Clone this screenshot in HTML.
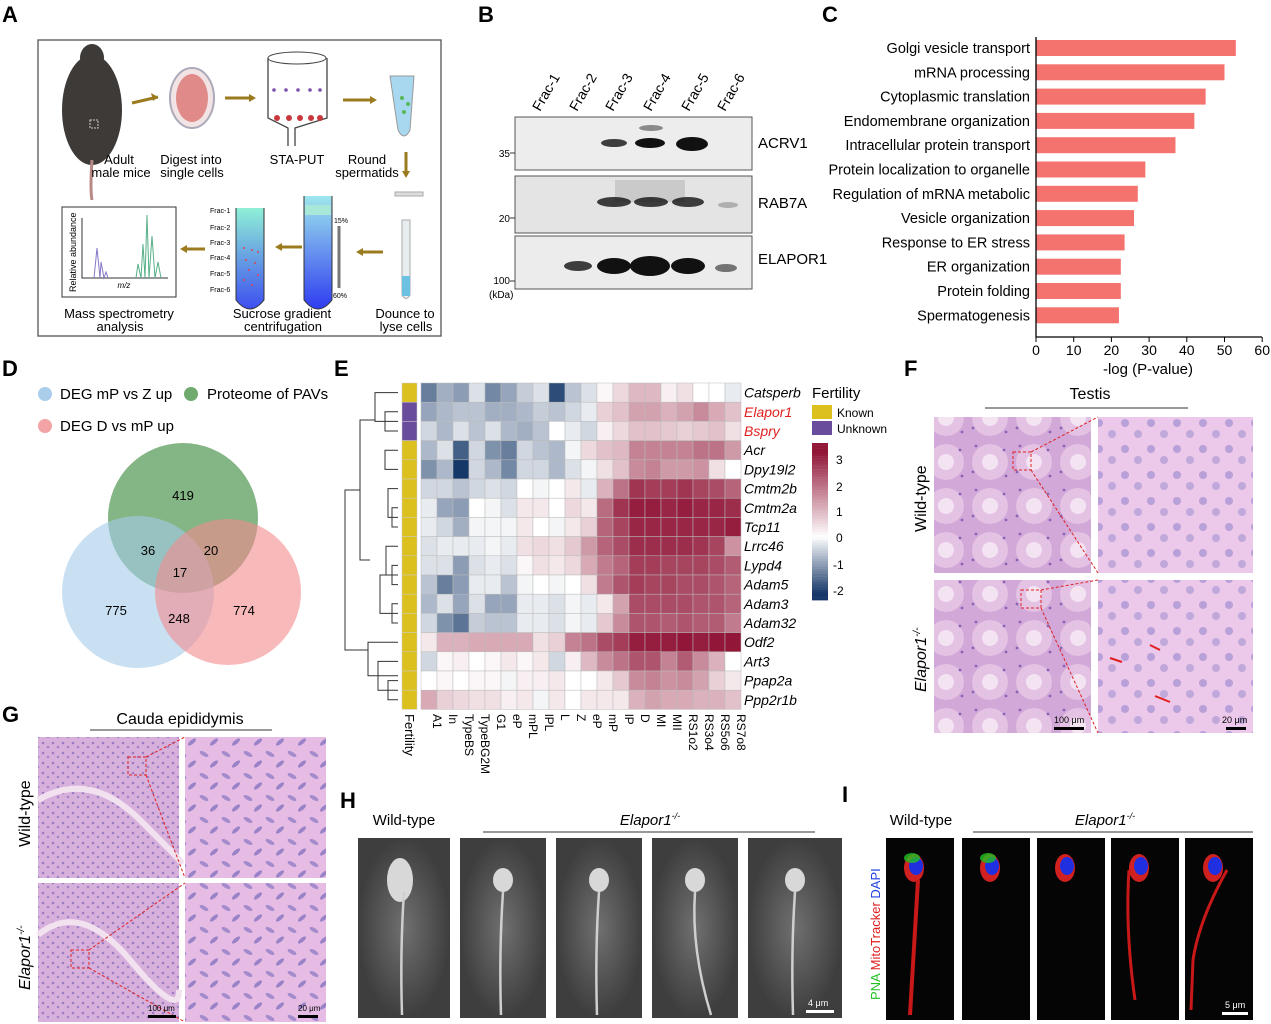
<!DOCTYPE html>
<html><head><meta charset="utf-8"><style>
body{margin:0;background:#fff}
svg{display:block;font-family:"Liberation Sans",Arial,sans-serif}
.L{font-size:22px;font-weight:bold}
.t{font-size:13px}
</style></head><body>
<svg id="s" width="1271" height="1024" viewBox="0 0 1271 1024" xmlns="http://www.w3.org/2000/svg">
<defs>
<linearGradient id="tube1" x1="0" y1="0" x2="0" y2="1"><stop offset="0" stop-color="#8ff0d6"/><stop offset="1" stop-color="#3d4ef0"/></linearGradient>
<linearGradient id="tube2" x1="0" y1="0" x2="0" y2="1"><stop offset="0" stop-color="#9ee6ee"/><stop offset="1" stop-color="#2f3cf0"/></linearGradient>
<pattern id="he" width="44" height="44" patternUnits="userSpaceOnUse"><rect width="44" height="44" fill="#d2a8d8"/><circle cx="22" cy="22" r="18" fill="#e4c2e4"/><circle cx="22" cy="22" r="8" fill="#f4e4f2"/><circle cx="8" cy="6" r="1.4" fill="#8a64b4"/><circle cx="36" cy="10" r="1.4" fill="#8a64b4"/><circle cx="38" cy="36" r="1.4" fill="#8a64b4"/><circle cx="5" cy="32" r="1.4" fill="#8a64b4"/></pattern>
<pattern id="hez" width="26" height="26" patternUnits="userSpaceOnUse"><rect width="26" height="26" fill="#ecc8ea"/><circle cx="7" cy="7" r="4" fill="#b8a0d8"/><circle cx="20" cy="18" r="4" fill="#c0a8da"/></pattern>
<pattern id="epi" width="10" height="10" patternUnits="userSpaceOnUse"><rect width="10" height="10" fill="#d8b0dc"/><circle cx="3" cy="3" r="1.3" fill="#9a7cc4"/><circle cx="8" cy="7" r="1.3" fill="#a284c8"/></pattern>
<pattern id="epiz" width="22" height="22" patternUnits="userSpaceOnUse"><rect width="22" height="22" fill="#e6bce4"/><ellipse cx="6" cy="6" rx="5" ry="2" fill="#a48ccc" transform="rotate(30 6 6)"/><ellipse cx="16" cy="16" rx="5" ry="2" fill="#9a82c8" transform="rotate(-40 16 16)"/></pattern>
<radialGradient id="sem"><stop offset="0" stop-color="#707070"/><stop offset="1" stop-color="#3e3e3e"/></radialGradient>
</defs>

<text class="L" x="2" y="22">A</text><text class="L" x="478" y="22">B</text><text class="L" x="822" y="22">C</text>
<text class="L" x="2" y="376">D</text><text class="L" x="334" y="376">E</text><text class="L" x="904" y="376">F</text>
<text class="L" x="2" y="722">G</text><text class="L" x="340" y="808">H</text><text class="L" x="842" y="802">I</text>

<!-- Panel A -->
<rect x="38" y="40" width="403" height="296" fill="#fff" stroke="#555" stroke-width="1.3"/>
<ellipse cx="92" cy="110" rx="30" ry="55" fill="#3e3a38"/>
<ellipse cx="92" cy="58" rx="12" ry="14" fill="#3e3a38"/>
<path d="M92 160 Q90 190 92 200" stroke="#b88a86" stroke-width="3" fill="none"/>
<rect x="90" y="120" width="8" height="8" fill="none" stroke="#ccc" stroke-dasharray="2 1"/>
<path d="M132 103 L158 97" stroke="#9c7b1e" stroke-width="3"/><path d="M158 97 l-7 -4 l2 8z" fill="#9c7b1e"/>
<ellipse cx="192" cy="98" rx="22" ry="30" fill="#f2e4e4" stroke="#aab" stroke-width="2"/>
<ellipse cx="192" cy="98" rx="16" ry="24" fill="#e08a8a"/>
<path d="M225 98 L252 98" stroke="#9c7b1e" stroke-width="3"/><path d="M256 98 l-7 -4 l0 8z" fill="#9c7b1e"/>
<path d="M268 58 L268 118 L288 128 L288 146 M295 146 L295 128 L327 118 L327 58" stroke="#444" fill="none" stroke-width="1.3"/>
<ellipse cx="297" cy="58" rx="29" ry="6" fill="#fff" stroke="#444"/>
<g fill="#7b4ea8"><circle cx="274" cy="90" r="1.8"/><circle cx="286" cy="90" r="1.8"/><circle cx="298" cy="90" r="1.8"/><circle cx="310" cy="90" r="1.8"/><circle cx="320" cy="90" r="1.8"/></g>
<g fill="#c8383c"><circle cx="277" cy="118" r="3"/><circle cx="289" cy="118" r="3"/><circle cx="300" cy="118" r="3"/><circle cx="311" cy="118" r="3"/><circle cx="320" cy="118" r="3"/></g>
<path d="M343 100 L372 100" stroke="#9c7b1e" stroke-width="3"/><path d="M377 100 l-7 -4 l0 8z" fill="#9c7b1e"/>
<path d="M390 76 L414 76 L410 130 Q404 142 398 130 Z" fill="#a8d8f0" stroke="#999"/>
<g fill="#58b858"><circle cx="402" cy="98" r="2"/><circle cx="408" cy="104" r="2"/><circle cx="404" cy="112" r="2"/></g>
<path d="M406 152 L406 172" stroke="#9c7b1e" stroke-width="3"/><path d="M406 178 l-4 -7 l8 0z" fill="#9c7b1e"/>
<rect x="395" y="192" width="28" height="4" fill="#ddd" stroke="#aaa"/>
<path d="M402 220 L410 220 L410 295 Q406 302 402 295 Z" fill="#e8eef0" stroke="#aaa"/>
<rect x="402" y="276" width="8" height="20" fill="#6cc0e0"/>
<text class="t" x="119" y="164" text-anchor="middle">Adult</text><text class="t" x="121" y="177" text-anchor="middle">male mice</text>
<text class="t" x="191" y="164" text-anchor="middle">Digest into</text><text class="t" x="192" y="177" text-anchor="middle">single cells</text>
<text class="t" x="297" y="164" text-anchor="middle">STA-PUT</text>
<text class="t" x="367" y="164" text-anchor="middle">Round</text><text class="t" x="367" y="177" text-anchor="middle">spermatids</text>
<rect x="62" y="207" width="114" height="90" fill="#fff" stroke="#333"/>
<text x="76" y="292" font-size="9" transform="rotate(-90 76 292)">Relative abundance</text>
<path d="M82 218 L82 278 L168 278" stroke="#333" fill="none"/>
<text x="124" y="288" font-size="8" font-style="italic" text-anchor="middle">m/z</text>
<path d="M94 278 L97 248 L100 278 L101 262 L104 278 L106 272 L108 278" stroke="#8878c8" fill="none"/>
<path d="M136 278 L138 264 L141 278 L143 244 L145 278 L147 215 L149 278 L152 236 L155 278 L158 262 L161 278" stroke="#58b088" fill="none"/>
<path d="M205 249 L185 249" stroke="#9c7b1e" stroke-width="3"/><path d="M180 249 l7 -4 l0 8z" fill="#9c7b1e"/>
<path d="M236 208 L236 300 Q250 318 264 300 L264 208" fill="url(#tube1)" stroke="#333"/>
<rect x="237" y="196" width="26" height="12" fill="#fff"/>
<g font-size="7"><text x="210" y="213">Frac-1</text><text x="210" y="230">Frac-2</text><text x="210" y="245">Frac-3</text><text x="210" y="260">Frac-4</text><text x="210" y="276">Frac-5</text><text x="210" y="292">Frac-6</text></g>
<g fill="#e04050"><circle cx="244" cy="248" r="1"/><circle cx="252" cy="250" r="1"/><circle cx="258" cy="252" r="1"/><circle cx="246" cy="260" r="1"/><circle cx="255" cy="263" r="1"/><circle cx="249" cy="270" r="1"/><circle cx="258" cy="275" r="1"/><circle cx="244" cy="280" r="1"/><circle cx="252" cy="285" r="1"/></g>
<path d="M302 247 L280 247" stroke="#9c7b1e" stroke-width="3"/><path d="M275 247 l7 -4 l0 8z" fill="#9c7b1e"/>
<path d="M304 196 L304 300 Q318 318 332 300 L332 196" fill="url(#tube2)" stroke="#333"/>
<rect x="305" y="205" width="26" height="10" fill="#a8e8d8"/>
<text x="334" y="223" font-size="7">15%</text><text x="333" y="298" font-size="7">60%</text>
<path d="M339 226 L339 288" stroke="#777" stroke-width="3"/>
<path d="M383 252 L362 252" stroke="#9c7b1e" stroke-width="3"/><path d="M356 252 l7 -4 l0 8z" fill="#9c7b1e"/>
<text class="t" x="119" y="318" text-anchor="middle">Mass spectrometry</text><text class="t" x="120" y="331" text-anchor="middle">analysis</text>
<text class="t" x="282" y="318" text-anchor="middle">Sucrose gradient</text><text class="t" x="283" y="331" text-anchor="middle">centrifugation</text>
<text class="t" x="405" y="318" text-anchor="middle">Dounce to</text><text class="t" x="406" y="331" text-anchor="middle">lyse cells</text>

<!-- Panel B -->
<g font-size="14">
<text transform="translate(540,112) rotate(-60)">Frac-1</text><text transform="translate(577,112) rotate(-60)">Frac-2</text>
<text transform="translate(613,112) rotate(-60)">Frac-3</text><text transform="translate(651,112) rotate(-60)">Frac-4</text>
<text transform="translate(689,112) rotate(-60)">Frac-5</text><text transform="translate(725,112) rotate(-60)">Frac-6</text>
</g>
<rect x="515" y="117" width="237" height="53" fill="#ededed" stroke="#555"/>
<rect x="515" y="176" width="237" height="57" fill="#e4e4e4" stroke="#555"/>
<rect x="515" y="236" width="237" height="53" fill="#ececec" stroke="#555"/>
<g fill="#111">
<ellipse cx="614" cy="143" rx="13" ry="4" opacity=".8"/><ellipse cx="650" cy="143" rx="15" ry="5"/><ellipse cx="651" cy="128" rx="12" ry="3" opacity=".45"/><ellipse cx="692" cy="144" rx="16" ry="7"/>
<ellipse cx="614" cy="202" rx="17" ry="5" opacity=".8"/><ellipse cx="651" cy="202" rx="17" ry="5" opacity=".8"/><ellipse cx="688" cy="202" rx="16" ry="5" opacity=".8"/><ellipse cx="728" cy="205" rx="10" ry="3" opacity=".25"/>
<rect x="615" y="180" width="70" height="22" opacity=".12"/>
<ellipse cx="578" cy="266" rx="14" ry="5" opacity=".8"/><ellipse cx="614" cy="266" rx="17" ry="8"/><ellipse cx="650" cy="266" rx="20" ry="10"/><ellipse cx="688" cy="266" rx="17" ry="8"/><ellipse cx="726" cy="268" rx="11" ry="4" opacity=".55"/>
</g>
<g font-size="10"><text x="510" y="157" text-anchor="end">35</text><text x="510" y="222" text-anchor="end">20</text><text x="510" y="284" text-anchor="end">100</text><text x="489" y="298">(kDa)</text></g>
<path d="M510 153 h5 M510 218 h5 M510 281 h5" stroke="#333"/>
<g font-size="15"><text x="758" y="148">ACRV1</text><text x="758" y="208">RAB7A</text><text x="758" y="264">ELAPOR1</text></g>

<!-- Panel C -->
<g id="cbars"></g>
<path d="M1036 37 L1036 337 L1262 337" stroke="#000" fill="none" stroke-width="1.3"/>
<g id="cticks" font-size="14"></g>
<text x="1148" y="374" font-size="15" text-anchor="middle">-log (P-value)</text>

<!-- Panel D -->
<circle cx="45" cy="394" r="7" fill="#a9cdea"/><text x="60" y="399" font-size="15">DEG mP vs Z up</text>
<circle cx="191" cy="394" r="7" fill="#6faa6f"/><text x="207" y="399" font-size="15">Proteome of PAVs</text>
<circle cx="45" cy="426" r="7" fill="#f4a3a5"/><text x="60" y="431" font-size="15">DEG D vs mP up</text>
<circle cx="183" cy="518" r="75" fill="#6fa86f" fill-opacity=".85"/>
<circle cx="138" cy="592" r="76" fill="#a4cbea" fill-opacity=".6"/>
<circle cx="228" cy="592" r="73" fill="#f48a8e" fill-opacity=".6"/>
<g font-size="13" text-anchor="middle"><text x="183" y="500">419</text><text x="148" y="555">36</text><text x="211" y="555">20</text><text x="180" y="577">17</text><text x="116" y="615">775</text><text x="179" y="623">248</text><text x="244" y="615">774</text></g>

<!-- Panel E -->
<g id="hm"></g>
<g id="dend" stroke="#333" fill="none" stroke-width="1"></g>
<text x="812" y="398" font-size="15">Fertility</text>
<rect x="812" y="405" width="20" height="14" fill="#dcc01e"/><text x="837" y="417" font-size="12">Known</text>
<rect x="812" y="421" width="20" height="14" fill="#6a4c9c"/><text x="837" y="433" font-size="12">Unknown</text>
<g id="cbar"></g>
<g font-size="12"><text x="836" y="464">3</text><text x="836" y="491">2</text><text x="836" y="516">1</text><text x="836" y="542">0</text><text x="833" y="569">-1</text><text x="833" y="595">-2</text></g>

<!-- Panel F -->
<text x="1090" y="399" font-size="16" text-anchor="middle">Testis</text>
<path d="M985 408 H1188" stroke="#333"/>
<rect x="934" y="417" width="157" height="156" fill="url(#he)"/>
<rect x="1098" y="417" width="155" height="156" fill="url(#hez)"/>
<rect x="934" y="580" width="157" height="153" fill="url(#he)"/>
<rect x="1098" y="580" width="155" height="153" fill="url(#hez)"/>
<rect x="1013" y="452" width="18" height="18" fill="none" stroke="#e02020" stroke-dasharray="3 2"/>
<rect x="1021" y="590" width="20" height="18" fill="none" stroke="#e02020" stroke-dasharray="3 2"/>
<path d="M1031 452 L1098 417 M1031 470 L1098 573 M1041 590 L1098 580 M1041 608 L1098 733" stroke="#e02020" stroke-dasharray="3 2"/>
<text transform="translate(926,532) rotate(-90)" font-size="16">Wild-type</text>
<text transform="translate(926,692) rotate(-90)" font-size="16" font-style="italic">Elapor1<tspan font-size="10" dy="-6">-/-</tspan></text>
<rect x="1054" y="727" width="30" height="3" fill="#000"/><text x="1054" y="723" font-size="9">100 μm</text>
<rect x="1226" y="727" width="20" height="3" fill="#000"/><text x="1222" y="723" font-size="9">20 μm</text>
<path d="M1110 658 L1122 662 M1150 645 L1160 650 M1155 696 L1170 702" stroke="#e02020" stroke-width="2"/>

<!-- Panel G -->
<text x="180" y="724" font-size="16" text-anchor="middle">Cauda epididymis</text>
<path d="M90 730 H272" stroke="#333"/>
<rect x="38" y="737" width="141" height="141" fill="url(#epi)"/>
<rect x="185" y="737" width="141" height="141" fill="url(#epiz)"/>
<rect x="38" y="883" width="141" height="139" fill="url(#epi)"/>
<rect x="185" y="883" width="141" height="139" fill="url(#epiz)"/>
<path d="M38 800 Q90 770 140 820 T179 860 M38 935 Q80 900 130 960 T179 990" stroke="#f2e2f0" stroke-width="6" fill="none"/>
<text transform="translate(30,847) rotate(-90)" font-size="16">Wild-type</text>
<text transform="translate(30,990) rotate(-90)" font-size="16" font-style="italic">Elapor1<tspan font-size="10" dy="-6">-/-</tspan></text>
<rect x="128" y="757" width="18" height="18" fill="none" stroke="#e02020" stroke-dasharray="3 2"/>
<rect x="71" y="950" width="18" height="18" fill="none" stroke="#e02020" stroke-dasharray="3 2"/>
<path d="M146 757 L185 737 M146 775 L185 878 M89 950 L185 883 M89 968 L185 1022" stroke="#e02020" stroke-dasharray="3 2"/>
<rect x="148" y="1015" width="28" height="3" fill="#000"/><rect x="298" y="1015" width="20" height="3" fill="#000"/>
<text x="148" y="1011" font-size="8">100 μm</text><text x="298" y="1011" font-size="8">20 μm</text>

<!-- Panel H -->
<text x="404" y="825" font-size="15" text-anchor="middle">Wild-type</text>
<text x="650" y="825" font-size="15" text-anchor="middle" font-style="italic">Elapor1<tspan font-size="9" dy="-6">-/-</tspan></text>
<path d="M483 832 H815" stroke="#333"/>
<g id="semg"></g>
<rect x="806" y="1010" width="28" height="3" fill="#fff"/><text x="808" y="1006" font-size="9" fill="#fff">4 μm</text>

<!-- Panel I -->
<text x="921" y="825" font-size="15" text-anchor="middle">Wild-type</text>
<text x="1105" y="825" font-size="15" text-anchor="middle" font-style="italic">Elapor1<tspan font-size="9" dy="-6">-/-</tspan></text>
<path d="M973 832 H1253" stroke="#333"/>
<text transform="translate(880,1000) rotate(-90)" font-size="13"><tspan fill="#20c020">PNA</tspan> <tspan fill="#e02020">MitoTracker</tspan> <tspan fill="#2040e0">DAPI</tspan></text>
<g id="fl"></g>
<rect x="1222" y="1012" width="26" height="3" fill="#fff"/><text x="1225" y="1008" font-size="9" fill="#fff">5 μm</text>
</svg>
<script>
var NS="http://www.w3.org/2000/svg";
function el(p,t,a,txt){var e=document.createElementNS(NS,t);for(var k in a)e.setAttribute(k,a[k]);if(txt!=null)e.textContent=txt;document.getElementById(p).appendChild(e);return e;}
var terms=[["Golgi vesicle transport",53],["mRNA processing",50],["Cytoplasmic translation",45],["Endomembrane organization",42],["Intracellular protein transport",37],["Protein localization to organelle",29],["Regulation of mRNA metabolic",27],["Vesicle organization",26],["Response to ER stress",23.5],["ER organization",22.5],["Protein folding",22.5],["Spermatogenesis",22]];
terms.forEach(function(t,i){var y=48+i*24.3;el("cbars","rect",{x:1036,y:y-8,width:t[1]*3.77,height:16,fill:"#f4736f"});el("cbars","text",{x:1030,y:y+5,"text-anchor":"end","font-size":14.5},t[0]);});
for(var v=0;v<=60;v+=10){var x=1036+v*3.77;el("cticks","path",{d:"M"+x+" 337 v5",stroke:"#000"});el("cticks","text",{x:x,y:355,"text-anchor":"middle"},v);}
var genes=["Catsperb","Elapor1","Bspry","Acr","Dpy19l2","Cmtm2b","Cmtm2a","Tcp11","Lrrc46","Lypd4","Adam5","Adam3","Adam32","Odf2","Art3","Ppap2a","Ppp2r1b"];
var D=[[-1.3,-0.8,-1,-0.3,-1.2,-0.9,-0.5,-0.3,-1.8,-0.6,-0.3,0.1,0.5,0.9,0.9,0.2,0.4,0,0,-0.2],
[-0.9,-0.7,-0.6,-0.6,-0.8,-0.8,-0.7,-0.5,-0.6,-0.4,-0.2,0.6,0.8,1.2,1.2,1,1.2,1.5,1.1,0.8],
[-0.4,-0.7,-0.3,-0.6,-0.3,-0.7,-0.8,-0.6,0,-0.2,-0.4,0.2,0.5,0.8,0.8,0.7,0.6,0.7,0.8,0.4],
[-0.7,-0.3,-1.6,-0.4,-1.1,-1.3,-0.4,-0.6,-0.7,-0.1,0.5,0.8,0.9,1.6,1.6,1.6,1.6,1.8,1.8,1.3],
[-1.1,-0.7,-2,-0.4,-0.7,-1.2,-0.4,-0.4,-0.7,-0.3,-0.1,0.4,0.8,1.5,1.6,1.3,1.3,1.4,0.4,0],
[-0.4,-0.4,-0.6,-0.4,-0.3,-0.4,0,-0.1,0,0.3,-0.2,1,1.8,2.6,2.5,2.5,2.6,2.4,2.3,2],
[-0.2,-0.9,-1,0,-0.1,-0.3,0.3,0.3,0,0.5,0.3,1.9,2.6,2.9,2.9,2.8,2.9,2.8,2.8,2.7],
[-0.2,-0.4,-0.8,-0.1,-0.1,-0.1,0.3,0,-0.1,0.3,0.6,2,2.4,2.8,2.8,2.8,2.8,2.8,2.8,2.9],
[-0.3,-0.2,-0.2,-0.2,-0.1,-0.2,0.4,0.5,0.4,0.7,1.3,2,2.3,2.7,2.7,2.7,2.7,2.6,2.4,1.4],
[-0.3,-0.3,-1,-0.3,-0.2,-0.3,0.1,0.4,0.3,0.5,1.1,1.7,2,2.5,2.5,2.4,2.4,2.4,2.3,2.1],
[-0.6,-1.3,-1,-0.2,-0.2,-0.6,-0.1,0,-0.1,0,0.4,1.7,2.2,2.5,2.4,2.4,2.3,2.3,2.2,2],
[-0.7,-0.3,-0.9,-0.3,-0.9,-0.9,-0.2,-0.2,-0.3,-0.1,-0.2,0.3,1.2,2.3,2.3,2.3,2.3,2.2,2.2,2],
[-0.4,-1.1,-1.4,-0.5,-0.6,-0.6,-0.2,-0.2,-0.3,-0.1,-0.2,0.7,1.5,2.2,2.2,2.1,2.2,2.1,2.1,1.7],
[0.3,1,1,1.1,1.1,1.1,1.1,0.4,0.6,1.6,1.8,2.3,2.5,2.9,2.9,2.9,3,2.9,3,3.2],
[-0.4,0.1,0.2,0,0.1,0.3,0.1,0.3,-0.4,0.2,0.9,1.5,1.8,2.2,2.2,1.6,2.1,1.5,1,0],
[0,0.1,0,0.1,0.1,-0.1,0.2,0.2,0.3,0,0,0.3,0.7,1.5,1.6,1.4,1.5,1.2,0.6,0.3],
[1.1,0.6,0.5,0.4,0.4,0.2,0.3,-0.1,0.3,0,0.3,0.3,0.3,1,1.2,1.1,1.1,1,1,0.8]];
function col(v){var a=[255,255,255],b,t;if(v<0){t=Math.min(1,-v/2);b=[22,56,104];}else{t=Math.min(1,v/3);b=[145,22,55];}
return "rgb("+a.map(function(x,i){return Math.round(x+(b[i]-x)*t)}).join(",")+")";}
var x0=421,y0=383,cw=16,rh=19.2;
genes.forEach(function(g,r){var y=y0+r*rh;
 el("hm","rect",{x:402,y:y,width:15,height:rh,fill:(r==1||r==2)?"#6a4c9c":"#dcc01e",stroke:"#ccc","stroke-width":0.5});
 for(var c=0;c<20;c++)el("hm","rect",{x:x0+c*cw,y:y,width:cw,height:rh,fill:col(D[r][c]),stroke:"#bbb","stroke-width":0.5});
 el("hm","text",{x:744,y:y+rh/2+5,"font-size":14,"font-style":"italic",fill:(r==1||r==2)?"#e02020":"#000"},g);
});
var cols=["A1","In","TypeBS","TypeBG2M","G1","eP","mPL","lPL","L","Z","eP","mP","lP","D","MI","MII","RS1o2","RS3o4","RS5o6","RS7o8"];
cols.forEach(function(c,i){var x=x0+i*cw+cw/2+4;el("hm","text",{transform:"translate("+x+",714) rotate(90)","font-size":12},c);});
el("hm","text",{transform:"translate(405,714) rotate(90)","font-size":13},"Fertility");
for(var i=0;i<60;i++){var v=3.3-i*(5.6/60);el("cbar","rect",{x:812,y:443+i*2.62,width:16,height:2.8,fill:col(v)});}
var yc=function(r){return y0+r*rh+rh/2;};
var dp=[[398,yc(1),yc(2),385],[398,yc(0),(yc(1)+yc(2))/2,375],[398,yc(3),yc(4),385],[398,yc(6),yc(7),392],[398,yc(5),(yc(6)+yc(7))/2,388],[398,yc(9),yc(10),392],[398,yc(11),yc(12),392],[398,yc(8),(yc(9)+yc(10))/2,386],[386,(yc(9)+yc(10))/2,(yc(11)+yc(12))/2,380],[398,yc(15),yc(16),388],[398,yc(14),(yc(15)+yc(16))/2,378],[398,yc(13),(yc(14)+(yc(15)+yc(16))/2)/2,368]];
dp.forEach(function(d){el("dend","path",{d:"M398 "+d[1]+" H"+d[3]+" V"+d[2]+" H398"});});
el("dend","path",{d:"M375 420 H360 V560 H370 M368 650 H345 V490 H360"});
var sx=[[358,92],[460,86],[556,86],[652,86],[748,94]];
sx.forEach(function(s,i){el("semg","rect",{x:s[0],y:838,width:s[1],height:180,fill:"url(#sem)"});
 var cx=s[0]+s[1]/2;
 el("semg","ellipse",{cx:cx-(i?0:4),cy:880,rx:i?10:13,ry:i?12:22,fill:"#d8d8d8"});
 el("semg","path",{d:"M"+cx+" 892 Q"+(cx-4)+" 950 "+(cx+(i==3?16:-2))+" 1015",stroke:"#cfcfcf","stroke-width":2.5,fill:"none"});});
var fx=[886,962,1037,1111,1185];
fx.forEach(function(x,i){el("fl","rect",{x:x,y:838,width:68,height:182,fill:"#050505"});
 var cx=x+34;
 el("fl","ellipse",{cx:cx-6,cy:868,rx:10,ry:14,fill:"#d02020"});
 el("fl","ellipse",{cx:cx-4,cy:866,rx:7,ry:9,fill:"#2030e0"});
 if(i<2)el("fl","ellipse",{cx:cx-8,cy:858,rx:8,ry:5,fill:"#20c020",opacity:.8});
 if(i==0)el("fl","path",{d:"M"+(cx-2)+" 880 Q"+(cx-6)+" 950 "+(cx-10)+" 1015",stroke:"#c81818","stroke-width":4,fill:"none"});
 if(i==3)el("fl","path",{d:"M"+(cx-16)+" 870 Q"+(cx-20)+" 930 "+(cx-10)+" 1000",stroke:"#c81818","stroke-width":3,fill:"none"});
 if(i==4)el("fl","path",{d:"M"+(cx+8)+" 870 Q"+(cx-20)+" 920 "+(cx-26)+" 960 L"+(cx-28)+" 1010",stroke:"#c81818","stroke-width":3,fill:"none"});
});
</script>
</body></html>
